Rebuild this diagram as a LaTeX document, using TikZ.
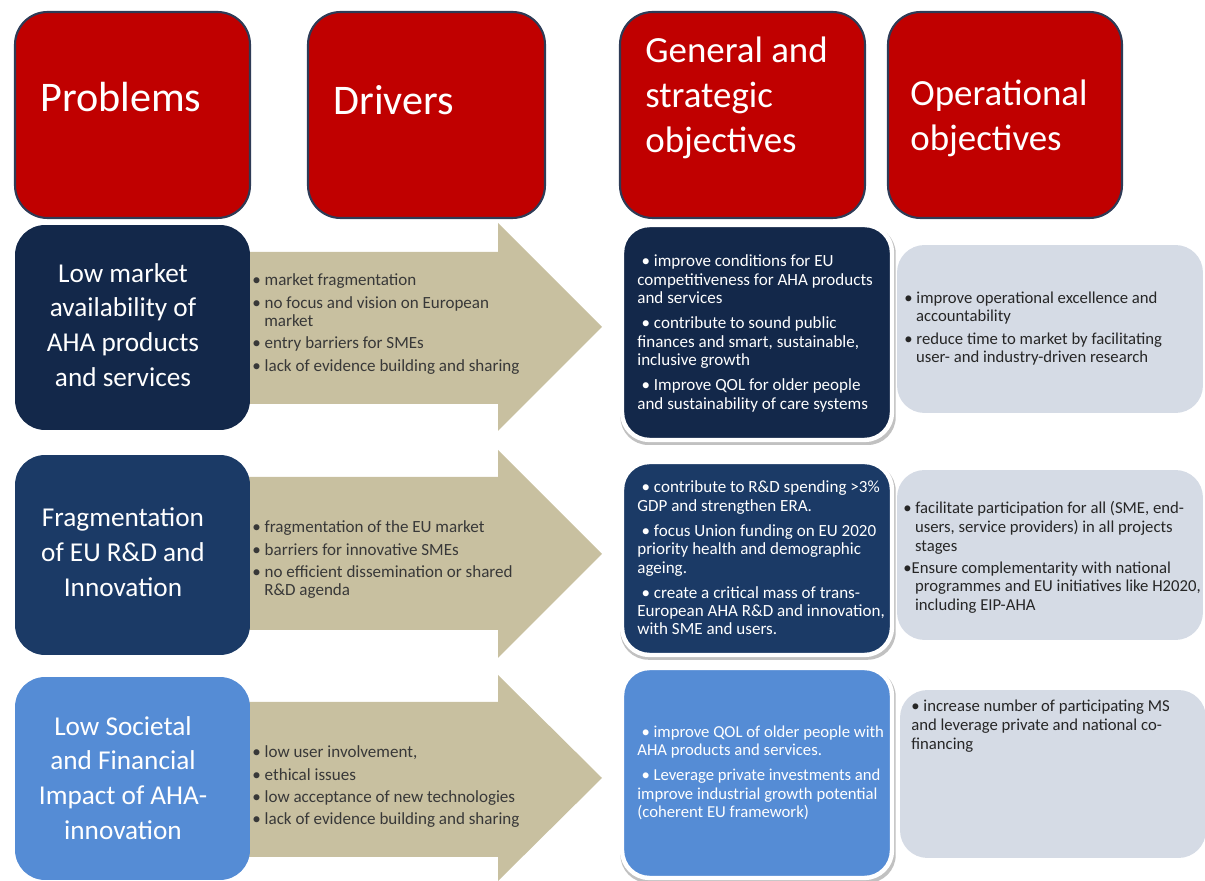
\documentclass[tikz,border=0pt]{standalone}
\usepackage{fontspec}
\setmainfont{Carlito}
\usetikzlibrary{shadows}

\definecolor{headred}{HTML}{C00000}
\definecolor{headrim}{HTML}{2E3B56}
\definecolor{navy}{HTML}{13284A}
\definecolor{midblue}{HTML}{1B3A66}
\definecolor{skyblue}{HTML}{558CD5}
\definecolor{khaki}{HTML}{C8C0A0}
\definecolor{mist}{HTML}{D5DBE5}

\newcommand{\bul}{\textbullet\ }
\newcommand{\gbul}{\hspace*{0.25em}\textbullet\ }
\newcommand{\hang}{\hspace*{0.7em}}

\begin{document}
\begin{tikzpicture}[x=0.02cm, y=-0.02cm, line join=round,
    head/.style={fill=headred, draw=headrim, line width=1.2pt, rounded corners=0.65cm,
      minimum height=4.12cm},
    headtext/.style={anchor=west, inner sep=0, text=white, align=left},
    problem/.style={rounded corners=0.6cm, minimum width=4.7cm},
    probtext/.style={inner sep=0, text=white, align=center,
      font=\fontsize{15.5}{19.8}\selectfont},
    smalltext/.style={anchor=west, inner sep=0, align=left,
      font=\fontsize{9.7}{10.5}\selectfont},
    optext/.style={smalltext, text=black!85, font=\fontsize{9.5}{10.6}\selectfont},
    general/.style={rounded corners=0.55cm, draw=white, line width=2.5pt,
      minimum width=5.4cm,
      drop shadow={shadow xshift=0.6pt, shadow yshift=-1.6pt, shadow scale=1.02,
        opacity=.35, fill=black!70}},
    operational/.style={fill=mist, rounded corners=0.55cm, minimum width=6.12cm}]
  \useasboundingbox (0,0) rectangle (1205,881);

  % column heads
  \node[head, minimum width=4.7cm]  (hProb) at (132.5,115) {};
  \node[head, minimum width=4.74cm] (hDrv)  at (426.5,115) {};
  \node[head, minimum width=4.9cm]  (hGen)  at (742.5,115) {};
  \node[head, minimum width=4.68cm] (hOp)   at (1005,115)  {};
  \node[headtext, font=\fontsize{24}{28}\selectfont] (tProb) at (40,97) {Problems};
  \node[headtext, font=\fontsize{24}{28}\selectfont] (tDrv) at (333,100) {Drivers};
  \node[headtext, font=\fontsize{21}{25.5}\selectfont] (tGen) at (645,98)
    {General and\\strategic\\objectives};
  \node[headtext, font=\fontsize{21}{25.5}\selectfont] (tOp) at (910,118)
    {Operational\\objectives};

  % driver arrows
  \fill[khaki] (245,252) -- (498,252) -- (498,223) -- (602,327) -- (498,431)
    -- (498,404) -- (245,404) -- cycle;
  \fill[khaki] (245,477) -- (498,477) -- (498,450) -- (602,554) -- (498,658)
    -- (498,630) -- (245,630) -- cycle;
  \fill[khaki] (245,702) -- (498,702) -- (498,675) -- (602,778) -- (498,881)
    -- (498,857) -- (245,857) -- cycle;

  % problems
  \node[problem, fill=navy, minimum height=4.1cm] (prob1) at (132.5,327.5) {};
  \node[problem, fill=midblue, minimum height=4cm] (prob2) at (132.5,555) {};
  \node[problem, fill=skyblue, minimum height=4.06cm] (prob3) at (132.5,778.5) {};
  \node[probtext] (tProb1) at (123,325)
    {Low market\\availability of\\AHA products\\and services};
  \node[probtext] (tProb2) at (123,552)
    {Fragmentation\\of EU R\&D and\\Innovation};
  \node[probtext] (tProb3) at (123,778)
    {Low Societal\\and Financial\\Impact of AHA-\\innovation};

  % drivers
  \node[smalltext, text=black!78] (drv1) at (252,324) {\bul market fragmentation\\[2.2pt]
    \bul no focus and vision on European\\\hang market\\[2.2pt]
    \bul entry barriers for SMEs\\[2.2pt]
    \bul lack of evidence building and sharing};
  \node[smalltext, text=black!78] (drv2) at (252,560) {\bul fragmentation of the EU market\\[2.2pt]
    \bul barriers for innovative SMEs\\[2.2pt]
    \bul no efficient dissemination or shared\\\hang R\&D agenda};
  \node[smalltext, text=black!78] (drv3) at (252,787) {\bul low user involvement,\\[2.2pt]
    \bul ethical issues\\[2.2pt]
    \bul low acceptance of new technologies\\[2.2pt]
    \bul lack of evidence building and sharing};

  % general and strategic objectives
  \node[general, fill=navy, minimum height=4.3cm] (gen1) at (757,332.5) {};
  \node[general, fill=midblue, minimum height=3.86cm] (gen2) at (757,558.5) {};
  \node[general, fill=skyblue, minimum height=4.2cm] (gen3) at (757,773) {};
  \node[smalltext, text=white] (tGen1) at (637,333.5)
    {\gbul improve conditions for EU\\competitiveness for AHA products\\and services\\[3.7pt]
     \gbul contribute to sound public\\finances and smart, sustainable,\\inclusive growth\\[3.7pt]
     \gbul Improve QOL for older people\\and sustainability of care systems};
  \node[smalltext, text=white] (tGen2) at (637,558)
    {\gbul contribute to R\&D spending >3\%\\GDP and strengthen ERA.\\[3.7pt]
     \gbul focus Union funding on EU 2020\\priority health and demographic\\ageing.\\[3.7pt]
     \gbul create a critical mass of trans-\\European AHA R\&D and innovation,\\with SME and users.};
  \node[smalltext, text=white, font=\fontsize{9.5}{10.5}\selectfont] (tGen3) at (637,773)
    {\gbul improve QOL of older people with\\AHA products and services.\\[3.7pt]
     \gbul Leverage private investments and\\improve industrial growth potential\\(coherent EU framework)};

  % operational objectives
  \node[operational, minimum height=3.36cm] (op1) at (1050,329) {};
  \node[operational, minimum height=3.4cm] (op2) at (1050,555) {};
  \node[operational, minimum height=3.36cm] (op3) at (1053,774) {};
  \node[optext] (tOp1) at (904,328.5)
    {\bul improve operational excellence and\\\hang accountability\\[2pt]
     \bul reduce time to market by facilitating\\\hang user- and industry-driven research};
  \node[optext] (tOp2) at (903,557.5)
    {\bul facilitate participation for all (SME, end-\\\hang users, service providers) in all projects\\\hang stages\\[2pt]
     \textbullet Ensure complementarity with national\\\hang programmes and EU initiatives like H2020,\\\hang including EIP-AHA};
  \node[optext, anchor=north west] (tOp3) at (911,700)
    {\bul increase number of participating MS\\and leverage private and national co-\\financing};
\end{tikzpicture}
\end{document}
